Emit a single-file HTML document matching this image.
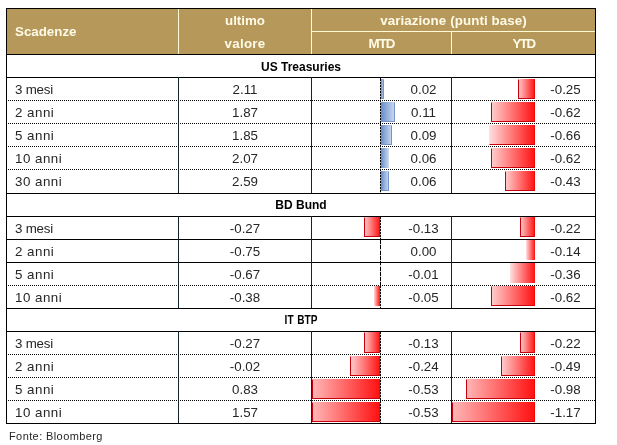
<!DOCTYPE html>
<html lang="it"><head><meta charset="utf-8"><title>Rendimenti titoli di Stato</title>
<style>
html,body{margin:0;padding:0;background:#fff;}
body{width:617px;height:445px;position:relative;overflow:hidden;font-family:"Liberation Sans",sans-serif;font-size:13.33px;color:#262626;}
.a{position:absolute;}
.hl{position:absolute;height:1px;background:#000;}
.dl{position:absolute;height:1px;background-image:repeating-linear-gradient(90deg,#000 0,#000 1px,transparent 1px,transparent 2px);}
.vl{position:absolute;width:1px;background:#000;}
.cl{position:absolute;background:#fffbd6;}
.ax{position:absolute;width:1px;background-image:repeating-linear-gradient(180deg,#000 0,#000 2px,rgba(0,0,0,0.25) 2px,rgba(0,0,0,0.25) 3px);}
.ax2{background-image:repeating-linear-gradient(180deg,#000 0,#000 4.1px,rgba(0,0,0,0.25) 4.1px,rgba(0,0,0,0.25) 5.3px);}
.hd{position:absolute;color:#fffbe8;font-weight:bold;white-space:nowrap;text-align:center;line-height:14px;}
.t{position:absolute;white-space:nowrap;line-height:14px;}
.lb{letter-spacing:0.5px;}
.sec{position:absolute;white-space:nowrap;line-height:14px;font-size:12px;font-weight:bold;text-align:center;color:#000;}
.bp{position:absolute;box-sizing:border-box;border:1px solid;border-color:transparent #7596cc #7596cc transparent;background:linear-gradient(90deg,#648dca 0%,#d0dcef 100%) border-box no-repeat;}
.bn{position:absolute;box-sizing:border-box;border:1px solid;border-color:rgba(255,40,40,0.0) rgba(230,0,0,0.6) #c8000e #c8000e;background:linear-gradient(90deg,var(--l,#ffd0d0) 0%,#ff1010 100%) border-box no-repeat;}
</style></head><body>

<div class="a" style="left:6px;top:8px;width:590px;height:46px;background:#b5985a;"></div>
<div class="cl" style="left:178px;top:9px;width:1px;height:45px;"></div>
<div class="cl" style="left:311px;top:9px;width:1px;height:45px;"></div>
<div class="cl" style="left:451px;top:32px;width:1px;height:22px;"></div>
<div class="cl" style="left:311px;top:31px;width:284px;height:1px;"></div>
<div class="hd" id="h_scad" style="left:15px;top:25px;text-align:left;">Scadenze</div>
<div class="hd" id="h_ult" style="left:179px;width:132px;top:14px;">ultimo</div>
<div class="hd" id="h_val" style="left:179px;width:132px;top:37px;letter-spacing:0.3px;">valore</div>
<div class="hd" id="h_var" style="left:312px;width:283px;top:14px;letter-spacing:0.1px;">variazione (punti base)</div>
<div class="hd" id="h_mtd" style="left:312px;width:139px;top:37px;letter-spacing:-1px;">MTD</div>
<div class="hd" id="h_ytd" style="left:452px;width:143px;top:37px;letter-spacing:-1.6px;">YTD</div>
<div class="hl" style="left:6px;top:8px;width:590px;"></div>
<div class="vl" style="left:6px;top:8px;height:416px;"></div>
<div class="vl" style="left:595px;top:8px;height:416px;"></div>
<div class="hl" style="left:6px;top:54px;width:590px;"></div>
<div class="hl" style="left:6px;top:77px;width:590px;"></div>
<div class="dl" style="left:6px;top:100px;width:590px;"></div>
<div class="dl" style="left:6px;top:123px;width:590px;"></div>
<div class="dl" style="left:6px;top:146px;width:590px;"></div>
<div class="dl" style="left:6px;top:169px;width:590px;"></div>
<div class="hl" style="left:6px;top:193px;width:590px;"></div>
<div class="hl" style="left:6px;top:216px;width:590px;"></div>
<div class="hl" style="left:6px;top:239px;width:590px;"></div>
<div class="hl" style="left:6px;top:262px;width:590px;"></div>
<div class="dl" style="left:6px;top:285px;width:590px;"></div>
<div class="hl" style="left:6px;top:308px;width:590px;"></div>
<div class="hl" style="left:6px;top:331px;width:590px;"></div>
<div class="dl" style="left:6px;top:354px;width:590px;"></div>
<div class="dl" style="left:6px;top:377px;width:590px;"></div>
<div class="dl" style="left:6px;top:400px;width:590px;"></div>
<div class="hl" style="left:6px;top:423px;width:590px;"></div>
<div class="sec" id="s2" style="left:7px;width:588px;top:60px;">US Treasuries</div>
<div class="vl" style="left:178px;top:77px;height:116px;background:#13252c;"></div>
<div class="vl" style="left:311px;top:77px;height:116px;background:#13252c;"></div>
<div class="vl" style="left:451px;top:77px;height:116px;background:#13252c;"></div>
<div class="t" style="left:15px;top:83px;letter-spacing:-0.2px;">3 mesi</div>
<div class="t" style="left:179px;width:132px;top:83px;text-align:center;">2.11</div>
<div class="bp" style="left:381px;top:79px;width:3px;height:20px;"></div>
<div class="t" style="left:395px;width:57px;top:83px;text-align:center;">0.02</div>
<div class="bn" style="left:518px;top:79px;width:17px;height:20px;"></div>
<div class="t" style="left:536px;width:59px;top:83px;text-align:center;">-0.25</div>
<div class="t" style="left:15px;top:106px;letter-spacing:0.5px;">2 anni</div>
<div class="t" style="left:179px;width:132px;top:106px;text-align:center;">1.87</div>
<div class="bp" style="left:381px;top:102px;width:14px;height:20px;"></div>
<div class="t" style="left:395px;width:57px;top:106px;text-align:center;">0.11</div>
<div class="bn" style="left:491px;top:102px;width:44px;height:20px;"></div>
<div class="t" style="left:536px;width:59px;top:106px;text-align:center;">-0.62</div>
<div class="t" style="left:15px;top:129px;letter-spacing:0.5px;">5 anni</div>
<div class="t" style="left:179px;width:132px;top:129px;text-align:center;">1.85</div>
<div class="bp" style="left:381px;top:125px;width:11px;height:20px;"></div>
<div class="t" style="left:395px;width:57px;top:129px;text-align:center;">0.09</div>
<div class="bn" style="left:489px;top:125px;width:46px;height:20px;border-left-color:transparent;--l:#ffe0e0;"></div>
<div class="t" style="left:536px;width:59px;top:129px;text-align:center;">-0.66</div>
<div class="t" style="left:15px;top:152px;letter-spacing:0.5px;">10 anni</div>
<div class="t" style="left:179px;width:132px;top:152px;text-align:center;">2.07</div>
<div class="bp" style="left:381px;top:148px;width:8px;height:20px;border-color:transparent;"></div>
<div class="t" style="left:395px;width:57px;top:152px;text-align:center;">0.06</div>
<div class="bn" style="left:491px;top:148px;width:44px;height:20px;"></div>
<div class="t" style="left:536px;width:59px;top:152px;text-align:center;">-0.62</div>
<div class="t" style="left:15px;top:175px;letter-spacing:0.5px;">30 anni</div>
<div class="t" style="left:179px;width:132px;top:175px;text-align:center;">2.59</div>
<div class="bp" style="left:381px;top:171px;width:8px;height:20px;"></div>
<div class="t" style="left:395px;width:57px;top:175px;text-align:center;">0.06</div>
<div class="bn" style="left:505px;top:171px;width:30px;height:20px;"></div>
<div class="t" style="left:536px;width:59px;top:175px;text-align:center;">-0.43</div>
<div class="ax" style="left:380px;top:78px;height:114px;border-top:1px solid #000;"></div>
<div class="sec" id="s8" style="left:7px;width:588px;top:198px;">BD Bund</div>
<div class="vl" style="left:178px;top:216px;height:92px;background:#13252c;"></div>
<div class="vl" style="left:311px;top:216px;height:92px;background:#13252c;"></div>
<div class="vl" style="left:451px;top:216px;height:92px;background:#13252c;"></div>
<div class="t" style="left:15px;top:222px;letter-spacing:-0.2px;">3 mesi</div>
<div class="t" style="left:179px;width:132px;top:222px;text-align:center;">-0.27</div>
<div class="bn" style="left:364px;top:217px;width:16px;height:20px;"></div>
<div class="t" style="left:395px;width:57px;top:222px;text-align:center;">-0.13</div>
<div class="bn" style="left:520px;top:217px;width:15px;height:20px;"></div>
<div class="t" style="left:536px;width:59px;top:222px;text-align:center;">-0.22</div>
<div class="t" style="left:15px;top:245px;letter-spacing:0.5px;">2 anni</div>
<div class="t" style="left:179px;width:132px;top:245px;text-align:center;">-0.75</div>
<div class="t" style="left:395px;width:57px;top:245px;text-align:center;">0.00</div>
<div class="bn" style="left:526px;top:240px;width:9px;height:20px;border-color:transparent;--l:#ffe0e0;"></div>
<div class="t" style="left:536px;width:59px;top:245px;text-align:center;">-0.14</div>
<div class="t" style="left:15px;top:268px;letter-spacing:0.5px;">5 anni</div>
<div class="t" style="left:179px;width:132px;top:268px;text-align:center;">-0.67</div>
<div class="t" style="left:395px;width:57px;top:268px;text-align:center;">-0.01</div>
<div class="bn" style="left:510px;top:263px;width:25px;height:20px;border-color:transparent;--l:#ffe0e0;"></div>
<div class="t" style="left:536px;width:59px;top:268px;text-align:center;">-0.36</div>
<div class="t" style="left:15px;top:291px;letter-spacing:0.5px;">10 anni</div>
<div class="t" style="left:179px;width:132px;top:291px;text-align:center;">-0.38</div>
<div class="bn" style="left:374px;top:286px;width:6px;height:20px;border-color:transparent;--l:#ffd8d8;"></div>
<div class="t" style="left:395px;width:57px;top:291px;text-align:center;">-0.05</div>
<div class="bn" style="left:491px;top:286px;width:44px;height:20px;"></div>
<div class="t" style="left:536px;width:59px;top:291px;text-align:center;">-0.62</div>
<div class="ax" style="left:380px;top:217px;height:22px;"></div>
<div class="ax ax2" style="left:380px;top:240px;height:45px;"></div>
<div class="ax" style="left:380px;top:286px;height:22px;"></div>
<div class="sec" id="s13" style="left:7px;width:588px;top:313px;transform:scaleX(0.84);word-spacing:1px;">IT BTP</div>
<div class="vl" style="left:178px;top:331px;height:92px;background:#13252c;"></div>
<div class="vl" style="left:311px;top:331px;height:92px;background:#13252c;"></div>
<div class="vl" style="left:451px;top:331px;height:92px;background:#13252c;"></div>
<div class="t" style="left:15px;top:337px;letter-spacing:-0.2px;">3 mesi</div>
<div class="t" style="left:179px;width:132px;top:337px;text-align:center;">-0.27</div>
<div class="bn" style="left:364px;top:332px;width:16px;height:21px;"></div>
<div class="t" style="left:395px;width:57px;top:337px;text-align:center;">-0.13</div>
<div class="bn" style="left:520px;top:332px;width:15px;height:21px;"></div>
<div class="t" style="left:536px;width:59px;top:337px;text-align:center;">-0.22</div>
<div class="t" style="left:15px;top:360px;letter-spacing:0.5px;">2 anni</div>
<div class="t" style="left:179px;width:132px;top:360px;text-align:center;">-0.02</div>
<div class="bn" style="left:350px;top:356px;width:30px;height:20px;"></div>
<div class="t" style="left:395px;width:57px;top:360px;text-align:center;">-0.24</div>
<div class="bn" style="left:501px;top:356px;width:34px;height:20px;"></div>
<div class="t" style="left:536px;width:59px;top:360px;text-align:center;">-0.49</div>
<div class="t" style="left:15px;top:383px;letter-spacing:0.5px;">5 anni</div>
<div class="t" style="left:179px;width:132px;top:383px;text-align:center;">0.83</div>
<div class="bn" style="left:312px;top:379px;width:68px;height:20px;--l:#ffb8b8;"></div>
<div class="t" style="left:395px;width:57px;top:383px;text-align:center;">-0.53</div>
<div class="bn" style="left:466px;top:379px;width:69px;height:20px;--l:#ffb8b8;"></div>
<div class="t" style="left:536px;width:59px;top:383px;text-align:center;">-0.98</div>
<div class="t" style="left:15px;top:406px;letter-spacing:0.5px;">10 anni</div>
<div class="t" style="left:179px;width:132px;top:406px;text-align:center;">1.57</div>
<div class="bn" style="left:312px;top:402px;width:68px;height:20px;--l:#ffb8b8;"></div>
<div class="t" style="left:395px;width:57px;top:406px;text-align:center;">-0.53</div>
<div class="bn" style="left:452px;top:402px;width:83px;height:20px;--l:#ffb8b8;"></div>
<div class="t" style="left:536px;width:59px;top:406px;text-align:center;">-1.17</div>
<div class="ax" style="left:380px;top:332px;height:91px;"></div>
<div class="t" id="src" style="left:9px;top:429px;font-size:11px;letter-spacing:0.4px;">Fonte: Bloomberg</div>
</body></html>
